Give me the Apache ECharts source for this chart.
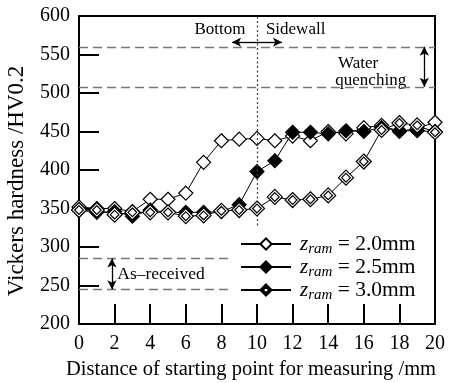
<!DOCTYPE html>
<html><head><meta charset="utf-8">
<script src="https://cdn.jsdelivr.net/npm/echarts@6/dist/echarts.min.js"></script>
<style>html,body{margin:0;padding:0;background:#fff}#c{width:449px;height:383px}</style>
</head><body><div id="c"></div><script>
// ---- data ----
const distance = [0,1,2,3,4,5,6,7,8,9,10,11,12,13,14,15,16,17,18,19,20];
const hvZram20 = [352,350,350,346,362,362,370,410,438,440,441,438,444,438,450,447,455,458,450,454,462];
const hvZram25 = [348,345,346,340,348,345,345,345,346,355,398,412,449,449,447,451,450,455,451,451,450];
const hvZram30 = [348,348,342,345,345,345,340,341,347,348,350,365,361,362,367,390,411,452,461,458,449];
const zramLabels = ['2.0mm','2.5mm','3.0mm'];
const xRange = [0,20], xStep = 2;
const yRange = [200,600], yStep = 50;
const waterQuenching = [508,560];
const asReceived = [245,285];
const boundaryX = 10;

const FONT = "'Liberation Serif','Times New Roman',serif";
const data = (vals) => distance.map((d,i)=>[d, vals[i]]);
const dblDiamond = 'path://M10,0L20,10L10,20L0,10Z M10,4.2L15.8,10L10,15.8L4.2,10Z';

const chart = echarts.init(document.getElementById('c'));
const dash = {type:[9,5], color:'#777', width:1.3};
const arrowLine = {type:'solid', color:'#000', width:1.3};
function arrow(from, to){
  return [{coord:from, symbol:'none', lineStyle:arrowLine},{coord:to, symbol:'arrow', symbolSize:[7,9]}];
}
const markLines = [
  [{coord:[xRange[0],waterQuenching[1]], lineStyle:dash},{coord:[xRange[1],waterQuenching[1]]}],
  [{coord:[xRange[0],waterQuenching[0]], lineStyle:dash},{coord:[xRange[1],waterQuenching[0]]}],
  [{coord:[xRange[0],asReceived[1]], lineStyle:dash},{coord:[8.5,asReceived[1]]}],
  [{coord:[xRange[0],asReceived[0]], lineStyle:dash},{coord:[8.5,asReceived[0]]}],
  [{coord:[boundaryX,328], lineStyle:{type:[2,2.5],color:'#444',width:1.3}},{coord:[boundaryX,yRange[1]]}],
  arrow([boundaryX,566],[8.6,566]),
  arrow([boundaryX,566],[11.4,566]),
  arrow([19.4,534],[19.4,waterQuenching[1]]),
  arrow([19.4,534],[19.4,waterQuenching[0]]),
  arrow([1.85,265],[1.85,asReceived[1]]),
  arrow([1.85,265],[1.85,asReceived[0]])
];

const mk = (i, vals, sym, fill) => ({
  name: 'z = ' + zramLabels[i], type:'line', data: data(vals),
  symbol: sym, symbolSize: sym === dblDiamond ? 15 : 14, symbolKeepAspect:true,
  lineStyle:{color:'#000', width:1},
  itemStyle:{color:fill, borderColor:'#000', borderWidth:1.2},
  emphasis:{disabled:true}, z: 3 + i, animation:false
});

const option = {
  animation:false,
  textStyle:{fontFamily:FONT},
  grid:{left:79, right:14, top:16, bottom:59, containLabel:false, outerBoundsMode:'none'},
  xAxis:[{
    type:'value', min:xRange[0], max:xRange[1], interval:xStep,
    name:'Distance of starting point for measuring /mm', nameLocation:'middle', nameGap:35,
    nameTextStyle:{fontFamily:FONT, fontSize:20.5, color:'#000', padding:[0,12,0,0]},
    axisLine:{show:true, lineStyle:{color:'#000', width:2}},
    axisTick:{show:true, inside:true, length:20, lineStyle:{color:'#000', width:2}},
    axisLabel:{fontFamily:FONT, fontSize:20, color:'#000', margin:10},
    splitLine:{show:false}
  },{
    type:'value', min:xRange[0], max:xRange[1], position:'top',
    axisLine:{show:true, onZero:false, lineStyle:{color:'#000', width:2}},
    axisTick:{show:false}, axisLabel:{show:false}, splitLine:{show:false}
  }],
  yAxis:[{
    type:'value', min:yRange[0], max:yRange[1], interval:yStep,
    name:'Vickers hardness /HV0.2', nameLocation:'middle', nameGap:51, nameRotate:90,
    nameTextStyle:{fontFamily:FONT, fontSize:23, color:'#000', padding:[0,22,0,0]},
    axisLine:{show:true, lineStyle:{color:'#000', width:2}},
    axisTick:{show:true, inside:true, length:20, lineStyle:{color:'#000', width:2}},
    axisLabel:{fontFamily:FONT, fontSize:20, color:'#000', margin:9},
    splitLine:{show:false}
  },{
    type:'value', min:yRange[0], max:yRange[1], position:'right',
    axisLine:{show:true, onZero:false, lineStyle:{color:'#000', width:2}},
    axisTick:{show:false}, axisLabel:{show:false}, splitLine:{show:false}
  }],
  legend:{
    orient:'vertical', left:240, top:233, itemWidth:50, itemHeight:14, itemGap:-1, padding:0,
    selectedMode:false,
    data: zramLabels.map(l=>'z = ' + l),
    formatter: (name)=> '{z|z}{s|ram}{t| ' + name.slice(2) + '}',
    textStyle:{
      fontFamily:FONT, color:'#000', fontSize:21, lineHeight:22,
      rich:{
        z:{fontFamily:FONT, fontStyle:'italic', fontSize:21, color:'#000', padding:[0,0,0,4]},
        s:{fontFamily:FONT, fontStyle:'italic', fontSize:15, color:'#000', padding:[11,0,0,0]},
        t:{fontFamily:FONT, fontSize:21.5, color:'#000'}
      }
    }
  },
  series:[
    {name:'annot', type:'line', data:[], silent:true,
     markLine:{silent:true, animation:false, symbol:['none','none'], label:{show:false},
       lineStyle:{color:'#000'}, emphasis:{disabled:true}, data:markLines}},
    mk(1, hvZram25, 'diamond', '#000'),
    mk(0, hvZram20, 'diamond', '#fff'),
    mk(2, hvZram30, dblDiamond, '#fff')
  ]
};
chart.setOption(option);

function px(x,y){ return chart.convertToPixel({xAxisIndex:0, yAxisIndex:0},[x,y]); }
function txt(pt, s, align, size){
  return {type:'text', x:pt[0], y:pt[1], silent:true,
    style:{text:s, font: size + 'px ' + FONT, fill:'#000', align:align, verticalAlign:'middle'}};
}
chart.setOption({graphic:[
  txt(px(9.35,582),'Bottom','right',17),
  txt(px(10.5,582),'Sidewall','left',17),
  txt(px(14.55,538),'Water','left',17),
  txt(px(14.4,516),'quenching','left',17),
  txt(px(2.15,265),'As\u2013received','left',17.5)
]});
</script></body></html>
